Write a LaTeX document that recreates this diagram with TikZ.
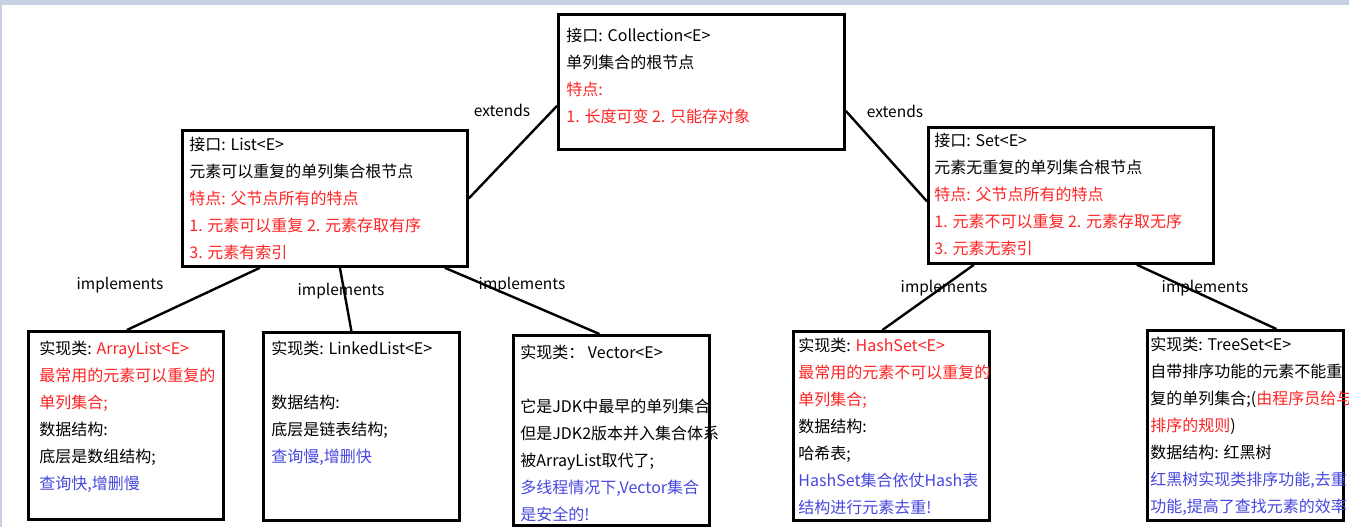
\documentclass[tikz,border=0pt]{standalone}
\usepackage{fontspec}
\setmainfont{Noto Sans CJK SC}
\usepackage{xcolor}
\usepackage{tikz}
\definecolor{redtxt}{RGB}{255,36,36}
\definecolor{bluetxt}{RGB}{72,72,222}
\definecolor{bandgray}{RGB}{199,208,224}
% box body: width, height, left pad, top pad, lines
\newcommand{\clsbody}[5]{\parbox[c][#2][t]{#1}{\raggedright\leftskip=#3\vspace*{#4}\strut #5}}

\begin{document}
\begin{tikzpicture}[x = 1pt, y = -1pt]
% Node styles ---
\tikzstyle{cls} = [rectangle, draw = black, line width = 2.8pt, anchor = north west, inner sep = 0pt, fill = white, font = \fontsize{16}{27}\selectfont] % Interfaces and classes
\tikzstyle{lbl} = [inner sep = 0pt, anchor = base, font = \fontsize{15.5}{18}\selectfont] % Relation names
% Edge styles
\tikzstyle{con} = [line width = 2.4pt, draw = black] % Relations
% Begin Figure ---
\useasboundingbox (0,0) rectangle (1349,527);
\fill [white] (0,0) rectangle (1349,527);
\fill [bandgray] (0,0) rectangle (1349,5);
\fill [bandgray] (0,0) rectangle (2,527);
% Nodes
\node at (+557,+13) [cls] (coll) {\clsbody{286pt}{135pt}{8pt}{8pt}{接口: Collection<E>\\ 单列集合的根节点\\ \color{redtxt}特点:\\ 1. 长度可变 2. 只能存对象}};
\node at (+181,+129) [cls] (list) {\clsbody{285pt}{136pt}{7pt}{1pt}{接口: List<E>\\ 元素可以重复的单列集合根节点\\ \color{redtxt}特点: 父节点所有的特点\\ 1. 元素可以重复 2. 元素存取有序\\ 3. 元素有索引}};
\node at (+927,+126) [cls] (set) {\clsbody{285pt}{136pt}{6pt}{0pt}{接口: Set<E>\\ 元素无重复的单列集合根节点\\ \color{redtxt}特点: 父节点所有的特点\\ 1. 元素不可以重复 2. 元素存取无序\\ 3. 元素无索引}};
\node at (+27,+330) [cls] (arraylist) {\clsbody{195pt}{188pt}{11pt}{4pt}{实现类: {\color{redtxt}ArrayList<E>\\ 最常用的元素可以重复的\\ 单列集合;}\\ 数据结构:\\ 底层是数组结构;\\ \color{bluetxt}查询快,增删慢}};
\node at (+262,+331) [cls] (linked) {\clsbody{196pt}{188pt}{8pt}{3pt}{实现类: LinkedList<E>\\ \mbox{}\\ 数据结构:\\ 底层是链表结构;\\ \color{bluetxt}查询慢,增删快}};
\node at (+512,+334) [cls] (vector) {\clsbody{196pt}{190pt}{7pt}{4pt}{实现类： Vector<E>\\ \mbox{}\\ 它是JDK中最早的单列集合\\ 但是JDK2版本并入集合体系\\ 被ArrayList取代了;\\ \color{bluetxt}多线程情况下,Vector集合\\ 是安全的!}};
\node at (+792,+330) [cls] (hash) {\clsbody{196pt}{189pt}{5pt}{1pt}{实现类: {\color{redtxt}HashSet<E>\\ 最常用的元素不可以重复的\\ 单列集合;}\\ 数据结构:\\ 哈希表;\\ \color{bluetxt}HashSet集合依仗Hash表\\ 结构进行元素去重!}};
\node at (+1146,+329) [cls] (tree) {\clsbody{196pt}{190pt}{3pt}{1pt}{实现类: TreeSet<E>\\ 自带排序功能的元素不能重\\ 复的单列集合;({\color{redtxt}由程序员给与\\ 排序的规则})\\ 数据结构: 红黑树\\ \color{bluetxt}红黑树实现类排序功能,去重\\ 功能,提高了查找元素的效率}};
% Paths
\path ([yshift=-24pt]coll.west) edge [con] (list.east);
\path ([yshift=-29pt]coll.east) edge [con] ([yshift=-6pt]set.west);
\path ([xshift=-65pt]list.south) edge [con] ([xshift=1pt]arraylist.north);
\path ([xshift=15pt]list.south) edge [con] ([xshift=-10pt]linked.north);
\path ([xshift=120pt]list.south) edge [con] ([xshift=-12pt]vector.north);
\path ([xshift=-97pt]set.south) edge [con] ([xshift=-9pt]hash.north);
\path ([xshift=66pt]set.south) edge [con] ([xshift=31pt]tree.north);
% Labels
\node at (+502,+116) [lbl] (extl) {extends};
\node at (+895,+117) [lbl] (extr) {extends};
\node at (+120,+289) [lbl] (impa) {implements};
\node at (+341,+295) [lbl] (impl) {implements};
\node at (+522,+289) [lbl] (impv) {implements};
\node at (+944,+292) [lbl] (imph) {implements};
\node at (+1205,+292) [lbl] (impt) {implements};
\end{tikzpicture}
\end{document}
